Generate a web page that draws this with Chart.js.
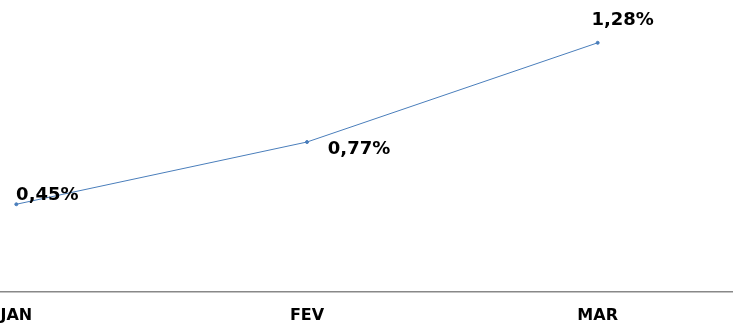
<!DOCTYPE html>
<html>
<head>
<meta charset="utf-8">
<script src="https://cdn.jsdelivr.net/npm/chart.js@4"></script>
<style>
  body { margin: 0; overflow: hidden; background: #fff; }
  #wrap { position: relative; width: 733px; height: 327px; overflow: hidden; }
  /* the chart is wider than the window, like the cropped original */
  #myChart { position: absolute; left: -129px; top: 0; }
</style>
</head>
<body>
<div id="wrap"><canvas id="myChart" width="872" height="339"></canvas></div>
<script>
// months and the rate for each one
const months = ['JAN', 'FEV', 'MAR'];
const rates = [0.45, 0.77, 1.28];

// where each value label sits relative to its point (px)
const labelOffsets = [[31, -9], [52, 7], [25, -22]];

// draws the "0,45%" style labels next to each point
const valueLabels = {
    id: 'valueLabels',
    afterDatasetsDraw(chart) {
        const ctx = chart.ctx;
        const meta = chart.getDatasetMeta(0);
        ctx.save();
        ctx.font = 'bold 18px "DejaVu Sans", Verdana, sans-serif';
        ctx.fillStyle = '#000';
        ctx.textAlign = 'center';
        ctx.textBaseline = 'middle';
        meta.data.forEach((pt, i) => {
            const text = rates[i].toFixed(2).replace('.', ',') + '%';
            ctx.fillText(text, pt.x + labelOffsets[i][0], pt.y + labelOffsets[i][1]);
        });
        ctx.restore();
    }
};

const ctx = document.getElementById('myChart').getContext('2d');
new Chart(ctx, {
    type: 'line',
    data: {
        labels: months,
        datasets: [{
            data: rates,
            borderColor: '#4a7ebb',
            backgroundColor: '#4a7ebb',
            borderWidth: 1,
            pointRadius: 1.5,
            pointHoverRadius: 1.5,
            tension: 0
        }]
    },
    options: {
        responsive: false,
        animation: false,
        layout: { padding: { top: 0, bottom: 0, left: 0, right: 0 }, autoPadding: false },
        plugins: { legend: { display: false }, tooltip: { enabled: false } },
        scales: {
            x: {
                offset: true,
                grid: { display: false, drawTicks: false },
                border: { display: true, color: '#888', width: 1.5 },
                ticks: {
                    color: '#000',
                    padding: 14,
                    font: { family: '"DejaVu Sans", Verdana, sans-serif', size: 16, weight: 'bold' }
                }
            },
            y: {
                display: false,
                min: 0,
                max: 1.5
            }
        }
    },
    plugins: [valueLabels]
});
</script>
</body>
</html>
